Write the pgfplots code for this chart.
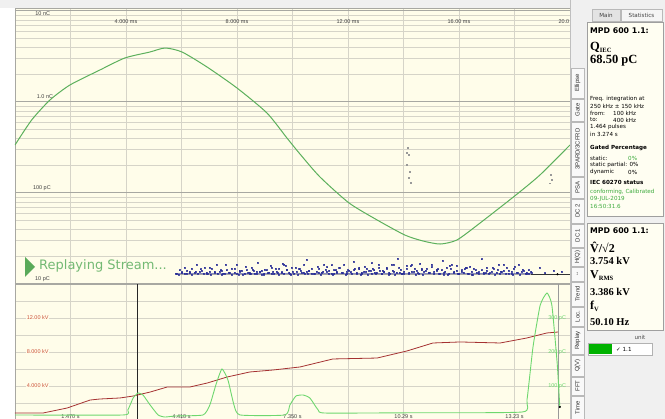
\documentclass[border=0pt]{standalone}
\usepackage{fontspec}
\setmainfont{DejaVu Sans}
\newfontfamily\lsans{Liberation Sans}
\newfontfamily\lserif{Liberation Serif}
\usepackage{pgfplots}
\pgfplotsset{compat=1.18}
\definecolor{cream}{RGB}{255,253,234}
\definecolor{qgreen}{RGB}{92,176,92}
\definecolor{lgreen}{RGB}{110,215,110}
\definecolor{vred}{RGB}{165,50,50}
\definecolor{lblred}{RGB}{205,85,60}
\definecolor{navy}{RGB}{40,45,150}
\definecolor{gridc}{RGB}{214,212,200}
\definecolor{gridd}{RGB}{168,168,162}
\definecolor{panelbg}{RGB}{240,240,240}
\definecolor{boxbg}{RGB}{255,254,242}
\definecolor{txtgreen}{RGB}{60,170,60}
\definecolor{rgreen}{RGB}{90,170,90}
\definecolor{rtext}{RGB}{115,185,115}
\newcommand\lbl{\lsans\fontsize{5.5}{6}\selectfont}
\newcommand\ps{\fontsize{5.6}{6.5}\selectfont}
\newcommand\vtab[3]{\draw[gray!55, fill=white!95!gray] (571,#1) rectangle (584,#2);
  \node[rotate=90, font=\lsans\fontsize{6}{6}\selectfont, text=black!80, inner sep=0pt] at (577.5,{(#1+#2)/2}) {#3};}
\begin{document}
\begin{tikzpicture}
\path[use as bounding box] (0,0) rectangle (665pt,-419pt);
\fill[white] (0,0) rectangle (665pt,-419pt);
\fill[gray!12] (0,0) rectangle (570pt,-8pt);

\begin{axis}[at={(15pt,-8pt)}, anchor=north west, scale only axis, width=555pt, height=276pt,
  xmin=0, xmax=20, ymode=log, ymin=10, ymax=10789,
  xtick={0,2,4,6,8,10,12,14,16,18,20}, ytick={10,100,1000,10000},
  minor ytick={20,30,40,50,60,70,80,90,200,300,400,500,600,700,800,900,2000,3000,4000,5000,6000,7000,8000,9000},
  xticklabels={}, yticklabels={},
  major tick length=0pt, minor tick length=0pt,
  xmajorgrids, ymajorgrids, yminorgrids,
  major x grid style={gridc, line width=0.6pt},
  major y grid style={gridd, line width=1pt},
  minor y grid style={gridc, line width=0.5pt},
  axis line style={gridd},
  axis background/.style={fill=cream},
]
\node[font=\lbl, text=black!75] at (axis cs:1.0,9387) {10 nC};
\node[font=\lbl, text=black!75] at (axis cs:1.08,1135) {1.0 nC};
\node[font=\lbl, text=black!75] at (axis cs:0.97,113.5) {100 pC};
\node[font=\lbl, text=black!75] at (axis cs:0.99,11.35) {10 pC};
\node[font=\lbl, text=black!75] at (axis cs:4,7568) {4.000 ms};
\node[font=\lbl, text=black!75] at (axis cs:8,7568) {8.000 ms};
\node[font=\lbl, text=black!75] at (axis cs:12,7568) {12.00 ms};
\node[font=\lbl, text=black!75] at (axis cs:16,7568) {16.00 ms};
\node[font=\lbl, text=black!75, anchor=east, inner sep=0.5pt] at (axis cs:20,7568) {20.0};
% baseline under the pulse band
\addplot[gray!70, line width=0.5pt] coordinates {(5.8,12.8) (20,12.8)};
\addplot[black!80, line width=0.6pt] coordinates {(18.6,12.8) (20,12.8)};
\addplot[only marks, mark=*, mark size=0.9pt, black] coordinates {(19.55,12.8)};
\addplot[navy, line width=1.1pt, opacity=0.55] coordinates {(5.85,13.0) (18.6,13.0)};
% pulse band
\addplot[only marks, mark=square*, mark size=0.5pt, navy, opacity=0.8] coordinates {
(5.8,13.1) (5.9,12.8) (6.0,13.5) (6.1,12.9) (6.2,14.0) (6.3,13.2) (6.35,12.7) (6.5,13.8) (6.6,13.0) (6.7,14.6)
(6.8,12.9) (6.9,13.4) (7.0,15.2) (7.05,12.8) (7.2,13.6) (7.3,13.0) (7.4,14.2) (7.5,12.9) (7.6,16.3) (7.7,13.3)
(7.8,12.8) (7.9,14.8) (8.0,13.1) (8.1,13.9) (8.2,12.7) (8.3,15.5) (8.4,13.4) (8.5,12.9) (8.6,14.1) (8.7,13.0)
(8.75,17.2) (8.8,13.6) (8.9,12.8) (9.0,14.5) (9.1,13.2) (9.2,15.9) (9.25,12.9) (9.3,13.8) (9.4,14.9) (9.5,12.8)
(9.6,13.5) (9.65,16.8) (9.7,13.1) (9.8,14.3) (9.9,12.9) (10.0,13.7) (10.1,15.1) (10.2,12.8) (10.3,14.0) (10.4,13.3)
(10.5,18.5) (10.55,12.9) (10.6,13.9) (10.7,14.7) (10.8,13.0) (10.9,15.6) (11.0,12.8) (11.1,13.6) (11.2,14.4) (11.3,13.1)
(11.4,16.1) (11.5,12.9) (11.6,13.8) (11.7,15.0) (11.8,13.2) (11.9,12.8) (12.0,14.2) (12.1,13.5) (12.2,17.5) (12.3,12.9)
(12.4,14.6) (12.5,13.3) (12.6,15.4) (12.7,12.8) (12.8,13.9) (12.9,14.8) (13.0,13.1) (13.1,16.4) (13.2,12.9) (13.3,13.7)
(13.4,15.2) (13.5,13.0) (13.6,14.1) (13.7,12.8) (13.8,19.0) (13.85,13.4) (13.9,14.5) (14.0,13.0) (14.1,15.8) (14.2,12.9)
(14.3,13.6) (14.4,14.9) (14.5,13.2) (14.6,16.7) (14.7,12.8) (14.8,14.0) (14.9,13.3) (15.0,15.3) (15.1,12.9) (15.2,14.4)
(15.3,13.1) (15.4,17.9) (15.5,13.7) (15.6,12.8) (15.7,14.8) (15.8,13.4) (15.9,16.0) (16.0,12.9) (16.1,13.8) (16.2,14.6)
(16.3,13.0) (16.4,15.6) (16.5,12.8) (16.6,14.2) (16.7,13.5) (16.8,18.8) (16.9,12.9) (17.0,14.0) (17.1,13.2) (17.2,15.1)
(17.3,12.8) (17.4,14.5) (17.5,13.6) (17.6,16.5) (17.7,13.0) (17.8,14.1) (17.9,12.9) (18.0,15.4) (18.1,13.3) (18.2,12.8)
(18.3,14.3) (18.4,13.1) (18.5,12.9) (18.6,13.6) (18.9,15.0) (19.1,13.2) (19.4,14.1) (19.7,13.6)
(8.05,12.6) (8.45,13.0) (8.95,12.7) (9.45,13.2) (9.95,12.6) (10.45,12.9) (10.95,13.4) (11.45,12.7) (11.95,13.1) (12.45,12.6)
(12.95,13.3) (13.45,12.7) (13.95,13.0) (14.45,12.6) (14.95,13.4) (15.45,12.7) (15.95,13.1) (16.45,12.6) (16.95,13.2) (7.45,12.7)
(6.95,13.0) (17.45,12.9) (17.95,12.7) (18.45,13.4) (10.25,14.6) (11.25,15.3) (12.25,14.9) (13.25,14.1) (14.25,15.7) (15.25,14.6)
(16.25,15.0) (9.75,15.8) (8.55,14.4) (14.65,14.9) (15.65,15.9) (13.65,16.2) (12.85,17.0) (11.55,14.2) (12.65,13.6) (13.15,14.0)
(5.83,13.0) (5.92,14.2) (6.01,13.4) (6.10,15.1) (6.19,13.1) (6.28,13.8) (6.37,14.7) (6.46,13.3) (6.55,16.2) (6.64,13.6) (6.73,14.0)
(6.82,15.1) (6.91,13.1) (7.00,13.8) (7.09,14.7) (7.18,13.3) (7.27,16.2) (7.36,13.6) (7.45,14.0) (7.54,13.0) (7.63,14.2) (7.72,13.4)
(7.81,14.7) (7.90,13.3) (7.99,16.2) (8.08,13.6) (8.17,14.0) (8.26,13.0) (8.35,14.2) (8.44,13.4) (8.53,15.1) (8.62,13.1) (8.71,13.8)
(8.80,13.6) (8.89,14.0) (8.98,13.0) (9.07,14.2) (9.16,13.4) (9.25,15.1) (9.34,13.1) (9.43,13.8) (9.52,14.7) (9.61,13.3) (9.70,16.2)
(9.79,14.2) (9.88,13.4) (9.97,15.1) (10.06,13.1) (10.15,13.8) (10.24,14.7) (10.33,13.3) (10.42,16.2) (10.51,13.6) (10.60,14.0) (10.69,13.0)
(10.78,13.1) (10.87,13.8) (10.96,14.7) (11.05,13.3) (11.14,16.2) (11.23,13.6) (11.32,14.0) (11.41,13.0) (11.50,14.2) (11.59,13.4) (11.68,15.1)
(11.77,13.3) (11.86,16.2) (11.95,13.6) (12.04,14.0) (12.13,13.0) (12.22,14.2) (12.31,13.4) (12.40,15.1) (12.49,13.1) (12.58,13.8) (12.67,14.7)
(12.76,14.0) (12.85,13.0) (12.94,14.2) (13.03,13.4) (13.12,15.1) (13.21,13.1) (13.30,13.8) (13.39,14.7) (13.48,13.3) (13.57,16.2) (13.66,13.6)
(13.75,13.4) (13.84,15.1) (13.93,13.1) (14.02,13.8) (14.11,14.7) (14.20,13.3) (14.29,16.2) (14.38,13.6) (14.47,14.0) (14.56,13.0) (14.65,14.2)
(14.74,13.8) (14.83,14.7) (14.92,13.3) (15.01,16.2) (15.10,13.6) (15.19,14.0) (15.28,13.0) (15.37,14.2) (15.46,13.4) (15.55,15.1) (15.64,13.1)
(15.73,16.2) (15.82,13.6) (15.91,14.0) (16.00,13.0) (16.09,14.2) (16.18,13.4) (16.27,15.1) (16.36,13.1) (16.45,13.8) (16.54,14.7) (16.63,13.3)
(16.72,13.0) (16.81,14.2) (16.90,13.4) (16.99,15.1) (17.08,13.1) (17.17,13.8) (17.26,14.7) (17.35,13.3) (17.44,16.2) (17.53,13.6) (17.62,14.0)
(17.71,15.1) (17.80,13.1) (17.89,13.8) (17.98,14.7) (18.07,13.3) (18.16,16.2) (18.25,13.6) (18.34,14.0) (18.43,13.0) (18.52,14.2) (18.61,13.4)
};
\addplot[only marks, mark=square*, mark size=0.45pt, gray!80] coordinates {
(14.16,313) (14.2,262) (14.12,203) (14.22,170) (14.18,146) (14.25,129) (14.1,280)
(19.3,158) (19.35,140) (19.28,128)};
% Q(t)
\addplot[qgreen, line width=1pt, smooth, tension=0.4] coordinates {
(0,337) (0.6,634) (1.26,1052) (1.98,1538) (3.06,2248) (3.96,3046) (4.86,3542) (5.41,3920)
(6.02,3542) (6.92,2424) (8.00,1425) (9.08,757) (9.80,402) (10.27,268) (10.99,150) (12.04,77.6)
(13.05,50.5) (14.05,34.5) (14.70,29.7) (15.32,27.5) (15.93,30.5) (16.76,46.8) (18.05,95) (18.92,158) (20.0,337)};
\end{axis}

\begin{axis}[at={(15pt,-284pt)}, anchor=north west, scale only axis, width=555pt, height=136pt,
  xmin=0, xmax=14.7, ymin=0, ymax=16,
  xtick={1.47,2.94,4.41,5.88,7.35,8.82,10.29,11.76,13.23}, ytick={2,4,6,8,10,12,14},
  xticklabels={}, yticklabels={}, major tick length=0pt,
  grid=major, grid style={gridc, line width=0.6pt},
  axis line style={gridd},
  axis background/.style={fill=cream},
]
\node[font=\lbl, text=lblred, fill=cream, inner sep=0.6pt] at (axis cs:0.6,12) {12.00 kV};
\node[font=\lbl, text=lblred, fill=cream, inner sep=0.6pt] at (axis cs:0.6,8) {8.000 kV};
\node[font=\lbl, text=lblred, fill=cream, inner sep=0.6pt] at (axis cs:0.6,4) {4.000 kV};
\node[font=\lbl, text=lgreen] at (axis cs:14.36,12) {300 pC};
\node[font=\lbl, text=lgreen] at (axis cs:14.36,8) {200 pC};
\node[font=\lbl, text=lgreen] at (axis cs:14.36,4) {100 pC};
\node[font=\lbl, text=black!75] at (axis cs:1.47,0.42) {1.470 s};
\node[font=\lbl, text=black!75] at (axis cs:4.41,0.42) {4.410 s};
\node[font=\lbl, text=black!75] at (axis cs:7.35,0.42) {7.350 s};
\node[font=\lbl, text=black!75] at (axis cs:10.29,0.42) {10.29 s};
\node[font=\lbl, text=black!75] at (axis cs:13.23,0.42) {13.23 s};
\addplot[gray!80, line width=0.6pt] coordinates {(14.38,0) (14.38,16)};
\addplot[black!85, line width=0.8pt] coordinates {(3.23,0) (3.23,16)};
% voltage
\addplot[vred, line width=0.8pt] coordinates {
(0,0.82) (0.74,0.82) (1.38,1.41) (1.99,2.35) (2.25,2.47) (2.78,2.59) (3.13,2.82) (3.58,3.29) (4.03,3.88)
(4.63,3.88) (5.09,4.35) (5.62,5.06) (6.22,5.65) (6.83,5.88) (7.55,6.24) (8.42,7.18) (9.59,7.29) (10.38,8.12)
(11.07,9.06) (11.79,9.18) (12.85,9.06) (13.56,9.65) (14.09,10.24) (14.38,10.35)};
% charge trend
\addplot[lgreen, line width=0.9pt, smooth, tension=0.3] coordinates {
(0,0.59) (2.86,0.59) (2.99,1.18) (3.13,2.59) (3.26,3.18) (3.39,2.94) (3.58,1.76) (3.79,0.59) (3.97,0.35)
(4.24,0.47) (4.98,0.59) (5.16,1.76) (5.32,4.12) (5.48,6.0) (5.64,4.71) (5.80,1.76) (5.96,0.59) (7.15,0.59)
(7.28,1.76) (7.44,2.82) (7.63,2.94) (7.81,2.59) (8.03,1.18) (8.21,0.82) (10.5,0.85) (13.43,0.94) (13.56,2.35)
(13.72,8.59) (13.91,13.5) (14.09,14.94) (14.22,13.5) (14.36,6.71) (14.43,1.53)};
\addplot[only marks, mark=*, mark size=0.9pt, black] coordinates {(14.43,1.53)};
\end{axis}

\begin{scope}[x=1pt, y=-1pt]
% replaying overlay
\fill[rgreen] (25,257) -- (35,267) -- (25,277) -- cycle;
\node[anchor=west, inner sep=0pt, text=rtext, font=\fontsize{13}{13}\selectfont] at (39,266) {Replaying Stream...};
% right panel
\fill[panelbg] (570,0) rectangle (665,419);
\draw[gray!50] (570,0) -- (570,419);
\vtab{68}{98}{Ellipse}
\vtab{99}{121}{Gate}
\vtab{122}{176}{3PARD/3CFRD}
\vtab{177}{198}{PSA}
\vtab{199}{223}{DC 2}
\vtab{224}{247}{DC 1}
\vtab{248}{266}{H(Q)}
\vtab{267}{281}{\fontsize{5}{5}\selectfont ↔}
\vtab{282}{306}{Trend}
\vtab{307}{326}{Loc.}
\vtab{327}{354}{Replay}
\vtab{355}{376}{Q(V)}
\vtab{377}{395}{FFT}
\vtab{396}{419}{Time}
% top tabs
\draw[gray!55, fill=gray!22] (592,9) rectangle (620,21);
\node[font=\ps, text=black!75] at (606,15) {Main};
\draw[gray!55, fill=gray!8] (621,9) rectangle (662,21);
\node[font=\ps, text=black!75] at (641.5,15) {Statistics};
% box 1
\draw[gray!75, fill=boxbg] (587,22) rectangle (663,216);
\node[anchor=west, inner sep=0pt, font=\bfseries\fontsize{7.8}{8}\selectfont] at (590,31) {MPD 600 1.1:};
\node[anchor=west, inner sep=0pt, font=\lserif\bfseries\fontsize{12.5}{13}\selectfont] at (590,47) {Q\raisebox{-2pt}{\fontsize{6.5}{7}\selectfont IEC}};
\node[anchor=west, inner sep=0pt, font=\lserif\bfseries\fontsize{12.5}{13}\selectfont] at (590,61) {68.50 pC};
\node[anchor=west, inner sep=0pt, font=\ps] at (590,99) {Freq. integration at};
\node[anchor=west, inner sep=0pt, font=\ps] at (590,106) {250 kHz ± 150 kHz};
\node[anchor=west, inner sep=0pt, font=\ps] at (590,113) {from:};
\node[anchor=west, inner sep=0pt, font=\ps] at (613,113) {100 kHz};
\node[anchor=west, inner sep=0pt, font=\ps] at (590,120) {to:};
\node[anchor=west, inner sep=0pt, font=\ps] at (613,120) {400 kHz};
\node[anchor=west, inner sep=0pt, font=\ps] at (590,127) {1.464 pulses};
\node[anchor=west, inner sep=0pt, font=\ps] at (590,134) {in 3.274 s};
\node[anchor=west, inner sep=0pt, font=\ps\bfseries] at (590,148) {Gated Percentage};
\node[anchor=west, inner sep=0pt, font=\ps] at (590,158) {static:};
\node[anchor=west, inner sep=0pt, font=\ps, text=txtgreen] at (628,158) {0\%};
\node[anchor=west, inner sep=0pt, font=\ps] at (590,165) {static partial: 0\%};
\node[anchor=west, inner sep=0pt, font=\ps] at (590,172) {dynamic};
\node[anchor=west, inner sep=0pt, font=\ps] at (628,172) {0\%};
\node[anchor=west, inner sep=0pt, font=\ps\bfseries] at (590,182) {IEC 60270 status};
\node[anchor=west, inner sep=0pt, font=\ps, text=txtgreen] at (590,192) {conforming, Calibrated};
\node[anchor=west, inner sep=0pt, font=\ps, text=txtgreen] at (590,199) {09-JUL-2019};
\node[anchor=west, inner sep=0pt, font=\ps, text=txtgreen] at (590,206) {16:50:31.6};
% box 2
\draw[gray!75, fill=boxbg] (587,223) rectangle (663,330);
\node[anchor=west, inner sep=0pt, font=\bfseries\fontsize{7.8}{8}\selectfont] at (590,231) {MPD 600 1.1:};
\node[anchor=west, inner sep=0pt, font=\lserif\bfseries\fontsize{12}{13}\selectfont] at (590,247) {\^{V}/√2};
\node[anchor=west, inner sep=0pt, font=\lserif\bfseries\fontsize{10.5}{11}\selectfont] at (590,261) {3.754 kV};
\node[anchor=west, inner sep=0pt, font=\lserif\bfseries\fontsize{12}{13}\selectfont] at (590,276) {V\raisebox{-2pt}{\fontsize{6.5}{7}\selectfont RMS}};
\node[anchor=west, inner sep=0pt, font=\lserif\bfseries\fontsize{10.5}{11}\selectfont] at (590,292) {3.386 kV};
\node[anchor=west, inner sep=0pt, font=\lserif\bfseries\fontsize{12}{13}\selectfont] at (590,306) {f\raisebox{-2pt}{\fontsize{6.5}{7}\selectfont V}};
\node[anchor=west, inner sep=0pt, font=\lserif\bfseries\fontsize{10.5}{11}\selectfont] at (590,322) {50.10 Hz};
% unit row
\node[font=\ps, text=black!70] at (640,337) {unit};
\draw[gray!60, fill=white] (588,343) rectangle (652,355);
\fill[green!70!black] (589,344) rectangle (612,354);
\node[anchor=west, inner sep=0pt, font=\ps] at (616,349) {✓ 1.1};
\end{scope}
\end{tikzpicture}
\end{document}
